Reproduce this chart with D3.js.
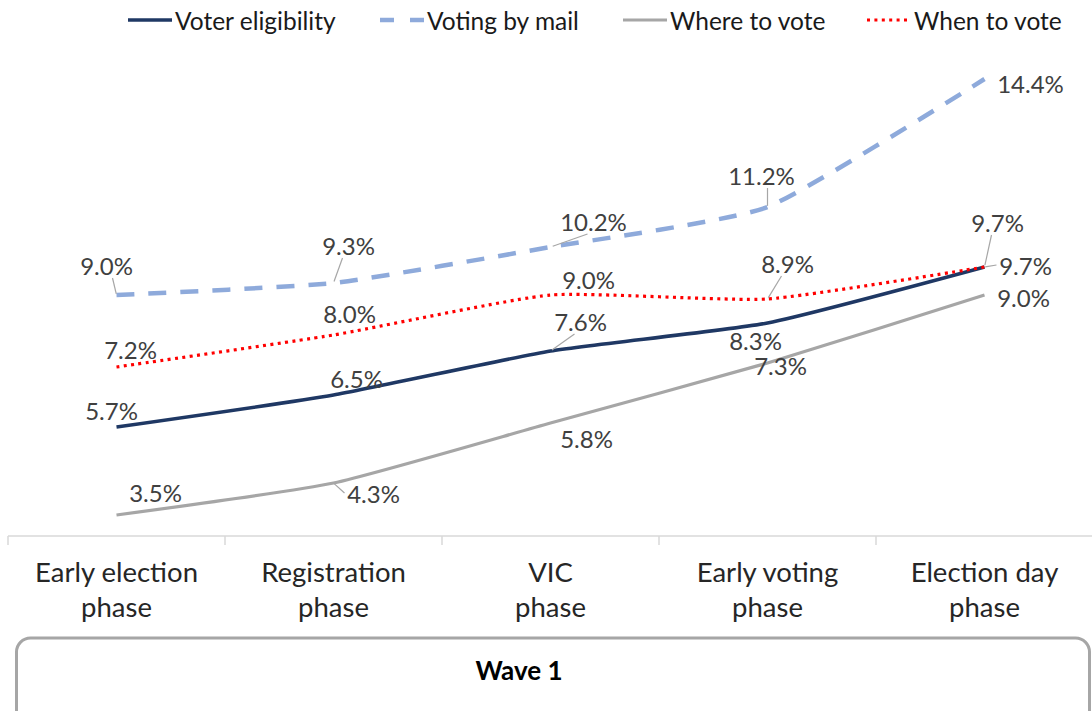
<!DOCTYPE html>
<html>
<head>
<meta charset="utf-8">
<script src="https://cdn.jsdelivr.net/npm/d3@7/dist/d3.min.js"></script>
<style>
  html, body { margin: 0; padding: 0; background: #ffffff; }
  svg { display: block; }
  text { font-family: Lato, "Open Sans", sans-serif; }
</style>
</head>
<body>
<svg id="chart" width="1092" height="711"></svg>
<script>
// ---- data ----
const phases = [
  ["Early election", "phase"],
  ["Registration", "phase"],
  ["VIC", "phase"],
  ["Early voting", "phase"],
  ["Election day", "phase"]
];
const seriesNames = ["Voter eligibility", "Voting by mail", "Where to vote", "When to vote"];
const voterEligibility = [5.7, 6.5, 7.6, 8.3, 9.7];
const votingByMail     = [9.0, 9.3, 10.2, 11.2, 14.4];
const whereToVote      = [3.5, 4.3, 5.8, 7.3, 9.0];
const whenToVote       = [7.2, 8.0, 9.0, 8.9, 9.7];
const groupLabel = "Wave 1";

// ---- styles per series ----
const styles = {
  "Voter eligibility": { color: "#1f3864", width: 3.5, dash: null },
  "Voting by mail":    { color: "#8eaadb", width: 4.5, dash: "18,14" },
  "Where to vote":     { color: "#a6a6a6", width: 3.2, dash: null },
  "When to vote":      { color: "#ff0000", width: 3.2, dash: "3,4.4" }
};

// label placement relative to each point: [dx, dy, leader?]
const labelOffsets = {
  "Voter eligibility": [[-5, -17, false], [23, -17, false], [30, -30, true], [-12, 17, false], [41, -2, true]],
  "Voting by mail":    [[-10, -30, true], [15, -38, true], [43, -26, true], [-6, -32, true], [46, 4, false]],
  "Where to vote":     [[39, -23, false], [40, 10, true], [36, 15, false], [13, 2, false], [39, 2, false]],
  "When to vote":      [[14, -18, false], [16, -22, false], [38, -16, false], [20, -36, true], [13, -45, true]]
};

const series = [
  { name: seriesNames[0], values: voterEligibility },
  { name: seriesNames[1], values: votingByMail },
  { name: seriesNames[2], values: whereToVote },
  { name: seriesNames[3], values: whenToVote }
];
// draw order: back to front
const drawOrder = ["Voting by mail", "Where to vote", "Voter eligibility", "When to vote"];

const svg = d3.select("#chart");

// ---- scales ----
const x = d3.scaleBand()
  .domain(d3.range(phases.length))
  .range([8, 1093])
  .padding(0);
const cx = i => x(i) + x.bandwidth() / 2;

const y = d3.scaleLinear()
  .domain([3, 15])
  .range([535, 55]);

// ---- category axis ----
const axisY = 536;
const axis = svg.append("g").attr("class", "x-axis");
axis.append("line")
  .attr("x1", x.range()[0]).attr("x2", x.range()[1])
  .attr("y1", axisY).attr("y2", axisY)
  .attr("stroke", "#d9d9d9").attr("stroke-width", 1.5);
const bounds = phases.map((d, i) => x(i)).concat([x.range()[1]]);
axis.selectAll("line.tick")
  .data(bounds)
  .join("line")
  .attr("class", "tick")
  .attr("x1", d => d).attr("x2", d => d)
  .attr("y1", axisY).attr("y2", axisY + 9)
  .attr("stroke", "#d9d9d9").attr("stroke-width", 1.5);

const catText = axis.selectAll("text.cat")
  .data(phases)
  .join("text")
  .attr("class", "cat")
  .attr("x", (d, i) => cx(i))
  .attr("y", 582)
  .attr("text-anchor", "middle")
  .attr("font-size", 27.5)
  .attr("fill", "#262626");
catText.selectAll("tspan")
  .data(d => d)
  .join("tspan")
  .attr("x", function () { return d3.select(this.parentNode).attr("x"); })
  .attr("dy", (d, i) => i === 0 ? 0 : 34.5)
  .text(d => d);

// ---- group box ----
svg.append("rect")
  .attr("x", 16.5).attr("y", 638)
  .attr("width", 1073).attr("height", 90)
  .attr("rx", 14).attr("ry", 14)
  .attr("fill", "none")
  .attr("stroke", "#a6a6a6").attr("stroke-width", 3);
svg.append("text")
  .attr("x", 519).attr("y", 680)
  .attr("text-anchor", "middle")
  .attr("font-size", 26).attr("font-weight", 700)
  .attr("fill", "#000")
  .text(groupLabel);

// ---- lines ----
const line = d3.line()
  .x((d, i) => cx(i))
  .y(d => y(d))
  .curve(d3.curveCardinal.tension(0.5));

const linesG = svg.append("g").attr("class", "lines");
drawOrder.forEach(name => {
  const s = series.find(d => d.name === name);
  const st = styles[name];
  linesG.append("path")
    .datum(s.values)
    .attr("d", line)
    .attr("fill", "none")
    .attr("stroke", st.color)
    .attr("stroke-width", st.width)
    .attr("stroke-dasharray", st.dash)
    .attr("stroke-linejoin", "round");
});

// ---- data labels ----
const fmt = d3.format(".1f");
const labelsG = svg.append("g").attr("class", "labels");
series.forEach(s => {
  s.values.forEach((v, i) => {
    const [dx, dy, leader] = labelOffsets[s.name][i];
    const px = cx(i), py = y(v);
    const lx = px + dx, ly = py + dy;
    if (leader) {
      // leader from nearest label edge toward the point
      const halfW = 26, halfH = 10;
      let sx = lx, sy = ly;
      if (Math.abs(dy) > halfH + 2) {
        sy = dy < 0 ? ly + halfH + 3 : ly - halfH - 3;
        sx = lx - Math.sign(dx) * Math.min(Math.abs(dx), 6);
      } else {
        sx = dx > 0 ? lx - halfW - 3 : lx + halfW + 3;
      }
      labelsG.append("line")
        .attr("x1", sx).attr("y1", sy)
        .attr("x2", px + (sx - px) * 0.06).attr("y2", py + (sy - py) * 0.06)
        .attr("stroke", "#a6a6a6").attr("stroke-width", 1.2);
    }
    labelsG.append("text")
      .attr("x", lx).attr("y", ly)
      .attr("text-anchor", "middle")
      .attr("dominant-baseline", "central")
      .attr("font-size", 24)
      .attr("fill", "#404040")
      .text(fmt(v) + "%");
  });
});

// ---- legend ----
const legendItems = [
  { name: "Voter eligibility", x0: 128 },
  { name: "Voting by mail", x0: 380 },
  { name: "Where to vote", x0: 623 },
  { name: "When to vote", x0: 867 }
];
const legend = svg.append("g").attr("class", "legend");
legendItems.forEach(it => {
  const st = styles[it.name];
  legend.append("line")
    .attr("x1", it.x0).attr("x2", it.x0 + 44)
    .attr("y1", 20).attr("y2", 20)
    .attr("stroke", st.color)
    .attr("stroke-width", st.width)
    .attr("stroke-dasharray", it.name === "Voting by mail" ? "14,16" : st.dash);
  legend.append("text")
    .attr("x", it.x0 + 47).attr("y", 20)
    .attr("dominant-baseline", "central")
    .attr("font-size", 24.5)
    .attr("fill", "#1a1a1a")
    .text(it.name);
});
</script>
</body>
</html>
